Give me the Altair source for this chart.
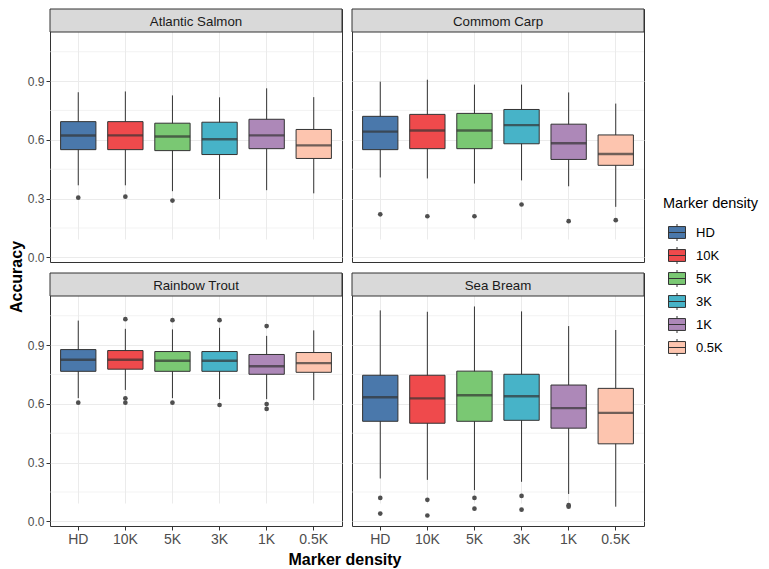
import altair as alt
import pandas as pd

species = ["Atlantic Salmon", "Commom Carp", "Rainbow Trout", "Sea Bream"]
densities = ["HD", "10K", "5K", "3K", "1K", "0.5K"]
colors = ["#4a78ab", "#ef4a4c", "#7ac873", "#47b3c8", "#ad88b8", "#fdc5af"]

# box statistics per species, in density order: lower whisker, q1, median, q3, upper whisker
salmon_lo = [0.368, 0.368, 0.338, 0.298, 0.343, 0.327]
salmon_q1 = [0.550, 0.550, 0.545, 0.525, 0.555, 0.505]
salmon_med = [0.622, 0.623, 0.617, 0.603, 0.623, 0.572]
salmon_q3 = [0.693, 0.693, 0.685, 0.690, 0.705, 0.653]
salmon_hi = [0.843, 0.847, 0.827, 0.817, 0.863, 0.818]

carp_lo = [0.408, 0.403, 0.377, 0.393, 0.363, 0.258]
carp_q1 = [0.550, 0.555, 0.555, 0.580, 0.500, 0.470]
carp_med = [0.642, 0.648, 0.648, 0.675, 0.583, 0.528]
carp_q3 = [0.720, 0.730, 0.735, 0.755, 0.680, 0.625]
carp_hi = [0.897, 0.907, 0.882, 0.882, 0.842, 0.785]

trout_lo = [0.629, 0.671, 0.629, 0.624, 0.624, 0.619]
trout_q1 = [0.766, 0.777, 0.766, 0.766, 0.751, 0.761]
trout_med = [0.825, 0.825, 0.820, 0.820, 0.792, 0.808]
trout_q3 = [0.877, 0.872, 0.867, 0.867, 0.852, 0.862]
trout_hi = [1.025, 0.983, 0.980, 0.988, 0.947, 0.975]

bream_lo = [0.219, 0.212, 0.160, 0.202, 0.140, 0.075]
bream_q1 = [0.511, 0.501, 0.511, 0.516, 0.476, 0.396]
bream_med = [0.634, 0.628, 0.644, 0.639, 0.578, 0.554]
bream_q3 = [0.746, 0.746, 0.767, 0.751, 0.696, 0.679]
bream_hi = [1.077, 1.070, 1.097, 1.072, 0.997, 0.977]

# outliers
out_species = (["Atlantic Salmon"] * 3 + ["Commom Carp"] * 6 + ["Rainbow Trout"] * 11
               + ["Sea Bream"] * 10)
out_density = (["HD", "10K", "5K"]
               + ["HD", "10K", "5K", "3K", "1K", "0.5K"]
               + ["HD", "10K", "10K", "10K", "5K", "5K", "3K", "3K", "1K", "1K", "1K"]
               + ["HD", "HD", "10K", "10K", "5K", "5K", "3K", "3K", "1K", "1K"])
out_value = ([0.305, 0.310, 0.290]
             + [0.220, 0.210, 0.210, 0.270, 0.185, 0.190]
             + [0.606, 1.032, 0.628, 0.606, 1.027, 0.606, 1.027, 0.594, 0.997, 0.599, 0.574]
             + [0.120, 0.040, 0.110, 0.030, 0.120, 0.065, 0.130, 0.060, 0.083, 0.075])

y_ticks = [0.0, 0.3, 0.6, 0.9]
y_minor = [0.15, 0.45, 0.75, 1.05]
y_domain = [-0.0235, 1.1505]

stats = {
    "Atlantic Salmon": (salmon_lo, salmon_q1, salmon_med, salmon_q3, salmon_hi),
    "Commom Carp": (carp_lo, carp_q1, carp_med, carp_q3, carp_hi),
    "Rainbow Trout": (trout_lo, trout_q1, trout_med, trout_q3, trout_hi),
    "Sea Bream": (bream_lo, bream_q1, bream_med, bream_q3, bream_hi),
}

rows = []
for sp, (lo, q1, md, q3, hi) in stats.items():
    for i, d in enumerate(densities):
        rows.append(dict(species=sp, density=d, lo=lo[i], q1=q1[i], med=md[i], q3=q3[i], hi=hi[i]))
df_box = pd.DataFrame(rows)
df_out = pd.DataFrame(dict(species=out_species, density=out_density, value=out_value))

FONT = "Liberation Sans"
W = 292
H_STRIP = 23
H_PLOT = 230
H = H_STRIP + H_PLOT
STEP = W / 6.2
BW = STEP * 0.75


def panel(sp, show_x, show_y):
    box = df_box[df_box.species == sp]
    out = df_out[df_out.species == sp]
    xs = alt.Scale(domain=densities, paddingInner=0.25, paddingOuter=0.225)
    ys = alt.Scale(domain=y_domain, range=[H, H_STRIP], nice=False, zero=False)
    xa = alt.Axis(title=None, labels=show_x, ticks=show_x, domain=False, grid=True,
                  bandPosition=0.5, labelAngle=0, labelFontSize=14, labelColor="#4d4d4d",
                  tickColor="#333333", tickSize=4, labelPadding=2)
    ya = alt.Axis(title=None, values=y_ticks, format=".1f", labels=show_y, ticks=show_y,
                  domain=False, grid=True, labelFontSize=12, labelColor="#4d4d4d",
                  tickColor="#333333", tickSize=4, labelPadding=2, minExtent=0)

    def X():
        return alt.X("density:N", scale=xs, axis=xa, sort=densities)

    def Y(f):
        return alt.Y(f, scale=ys, axis=ya)

    base = alt.Chart(box)
    minor = alt.Chart(pd.DataFrame({"v": y_minor})).mark_rule(
        color="#ebebeb", strokeWidth=0.6).encode(y=Y("v:Q"))
    whisk = base.mark_rule(color="#333333", strokeWidth=1).encode(
        x=X(), y=Y("lo:Q"), y2="hi:Q")
    bars = base.mark_bar(stroke="#333333", strokeWidth=1, fillOpacity=1).encode(
        x=X(), y=Y("q1:Q"), y2="q3:Q",
        fill=alt.Fill("density:N", scale=alt.Scale(domain=densities, range=colors),
                      legend=alt.Legend(
                          title="Marker density", orient="none", legendX=654, legendY=188,
                          titleFontSize=14.5, titleFontWeight="normal", titleColor="#000000",
                          titleFont=FONT, titlePadding=12, labelFont=FONT, labelFontSize=13,
                          labelColor="#000000", symbolType="M-1,-0.7L1,-0.7L1,0.7L-1,0.7Z M-1,0L1,0 M0,-1L0,-0.7 M0,0.7L0,1",
                          symbolSize=289, symbolStrokeColor="#333333", symbolStrokeWidth=1,
                          symbolOffset=5, rowPadding=1, labelOffset=10, padding=0)))
    med = base.mark_tick(color="#333333", thickness=2.4, size=BW).encode(
        x=X(), y=Y("med:Q"))
    pts = alt.Chart(out).mark_circle(color="#4f4f4f", size=22, opacity=1).encode(
        x=X(), y=Y("value:Q"))
    lab = pd.DataFrame({"label": [sp]})
    strip = alt.Chart(lab).mark_rect(fill="#d9d9d9", stroke="#333333", strokeWidth=1).encode(
        x=alt.value(0), x2=alt.value(W), y=alt.value(0), y2=alt.value(H_STRIP))
    strip_txt = alt.Chart(lab).mark_text(fontSize=13.3, color="#1a1a1a", font=FONT).encode(
        text="label:N", x=alt.value(W / 2), y=alt.value(H_STRIP / 2 + 1))
    return alt.layer(minor, whisk, bars, med, pts, strip, strip_txt).properties(width=W, height=H)


tl = panel("Atlantic Salmon", False, True)
tr = panel("Commom Carp", False, False)
bl = panel("Rainbow Trout", True, True)
br = panel("Sea Bream", True, False)

grid = alt.vconcat(alt.hconcat(tl, tr, spacing=8), alt.hconcat(bl, br, spacing=8), spacing=8)

ytitle = alt.Chart(pd.DataFrame({"t": ["Accuracy"]})).mark_text(
    angle=270, fontSize=16, fontWeight="bold", font=FONT, color="#000000").encode(
    text="t:N", x=alt.value(8), y=alt.value(268)).properties(
    width=16, height=2 * H + 8, view=alt.ViewBackground(stroke="transparent"))

xtitle = alt.Chart(pd.DataFrame({"t": ["Marker density"]})).mark_text(
    fontSize=16, fontWeight="bold", font=FONT, color="#000000").encode(
    text="t:N", x=alt.value(336), y=alt.value(12)).properties(
    width=632, height=22, view=alt.ViewBackground(stroke="transparent"))

chart = alt.vconcat(alt.hconcat(ytitle, grid, spacing=0), xtitle, spacing=0).properties(
    padding={"left": 0, "top": 0, "right": 0, "bottom": 0}
).configure(font=FONT).configure_view(
    stroke="#333333", strokeWidth=1
).configure_axis(
    gridColor="#ebebeb", gridWidth=1, labelFont=FONT
).configure_axisY(minExtent=0)

chart.save("out.html", embed_options={"renderer": "svg", "actions": False})
